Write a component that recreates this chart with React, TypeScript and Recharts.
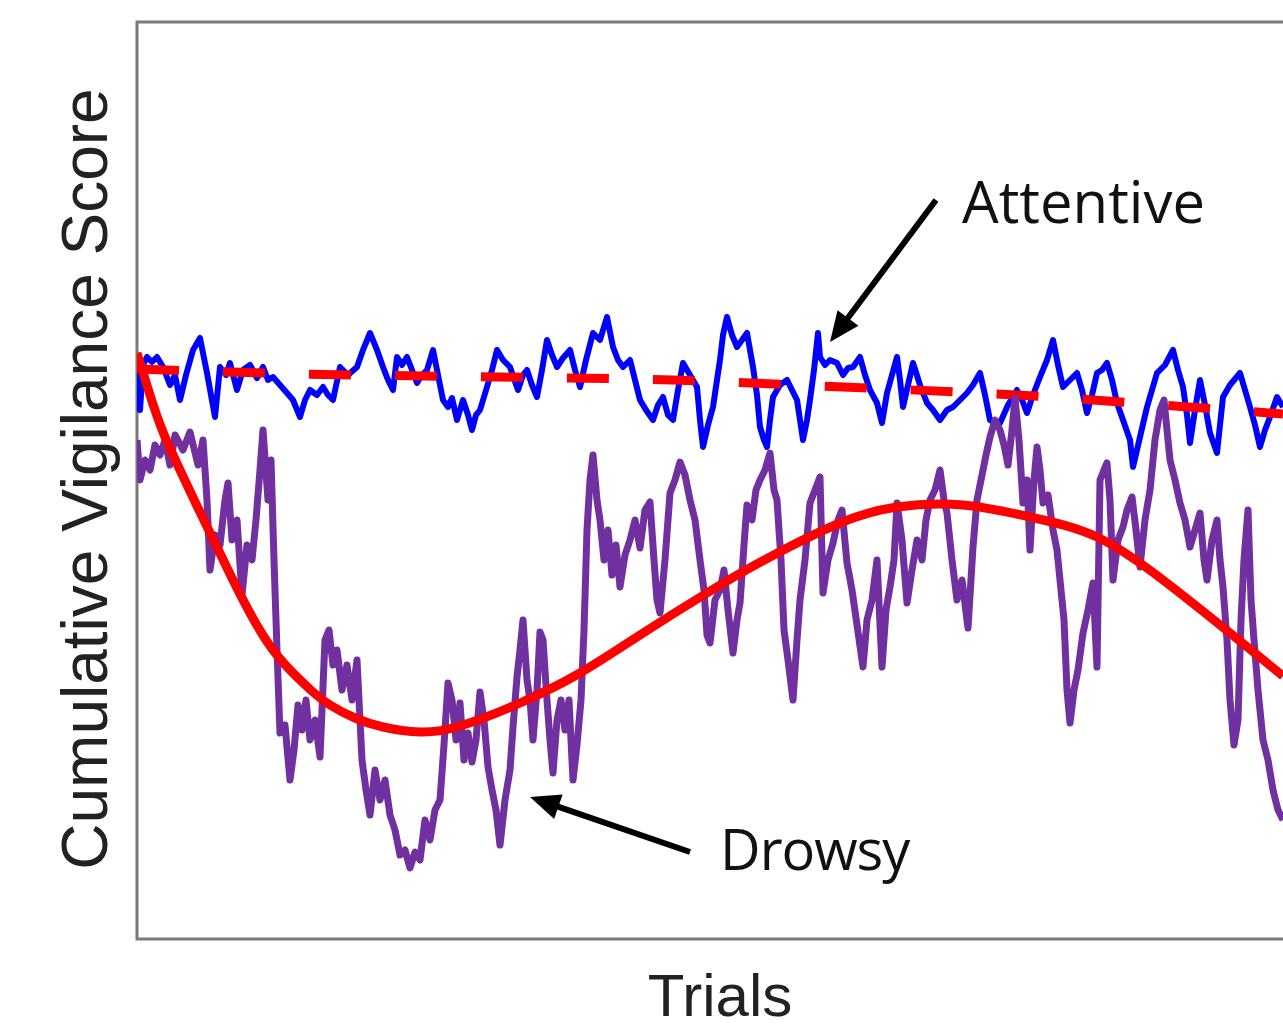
import React from 'react';
import { LineChart, Line, XAxis, YAxis, ReferenceArea } from 'recharts';

// Trials (x) and cumulative vigilance score (y, arbitrary units)
const attentiveTrials = [0,3,6,10,15,20,26,33,38,43,49,56,63,70,74,78,83,89,93,100,106,113,120,126,131,136,143,150,156,163,168,173,180,186,191,196,203,211,220,226,233,240,246,251,256,260,265,270,275,280,285,290,296,301,306,311,315,320,326,331,335,339,343,350,355,360,366,373,381,386,390,395,400,405,410,415,420,426,433,438,443,449,456,463,470,476,481,486,493,498,503,509,516,521,526,531,536,541,546,553,560,563,566,571,576,580,583,586,590,595,600,605,610,613,616,620,623,627,630,633,636,643,650,655,660,663,666,670,673,677,681,683,688,693,700,706,711,716,723,728,733,740,745,750,755,760,763,766,771,776,783,790,796,803,810,816,823,830,836,843,848,853,858,863,871,880,885,890,896,903,910,916,921,926,933,940,945,950,955,960,965,970,975,980,986,993,996,1000,1003,1010,1015,1020,1028,1036,1041,1046,1050,1053,1058,1063,1068,1073,1080,1083,1086,1093,1103,1108,1113,1118,1123,1128,1133,1140,1146];
const attentiveScores = [58.6,52.9,57.4,58.2,57.7,58.2,57.2,55.4,56.4,53.9,56.4,58.9,60.1,56.6,54.4,52.2,57.2,56.4,57.6,54.9,56.9,57.4,56.1,57.2,55.9,56.2,55.4,54.6,53.9,52.2,53.9,54.9,54.4,55.2,54.4,53.9,57.2,56.4,57.2,58.9,60.6,58.9,57.2,55.9,54.9,58.2,57.4,58.2,56.9,55.6,56.4,56.9,58.9,56.4,53.9,53.2,54.1,51.9,53.9,52.4,50.9,52.4,52.9,55.2,56.9,58.9,57.9,57.2,54.9,56.4,56.9,55.4,54.2,56.9,59.9,58.4,57.2,58.1,58.9,56.9,55.2,57.9,60.6,59.9,62.2,59.2,57.9,57.2,57.9,55.9,53.9,52.9,51.9,53.4,54.2,52.4,51.9,54.9,57.6,56.4,55.2,51.9,49.2,51.4,53.2,55.9,57.9,60.4,62.2,60.4,59.2,59.9,60.6,58.9,57.2,54.4,51.2,49.9,49.2,51.9,54.2,55.4,55.9,54.9,53.9,51.9,49.9,51.9,53.9,56.9,60.6,58.2,57.4,57.9,57.6,56.4,57.1,57.2,58.2,56.4,54.9,53.6,51.6,54.6,56.4,58.2,55.9,53.2,55.4,57.6,55.4,53.6,52.9,51.9,52.9,53.2,53.9,54.6,55.4,56.6,54.4,51.9,51.6,51.6,53.4,54.9,53.9,52.6,54.4,56.2,57.9,59.9,57.4,55.2,55.9,56.6,54.9,52.6,54.4,56.6,56.9,57.6,55.9,53.6,51.9,49.9,47.2,48.9,50.2,53.2,54.9,56.6,57.4,58.9,56.9,55.2,52.4,49.6,52.9,55.9,53.4,50.6,48.6,51.4,54.2,55.4,56.6,54.9,53.2,51.4,49.2,50.9,52.2,54.2,53.2];

const drowsyTrials = [0,3,8,13,18,23,28,33,38,46,53,61,66,70,73,78,83,88,91,95,100,105,110,115,119,123,126,131,134,137,140,143,148,153,157,161,165,169,173,178,183,188,192,196,200,205,210,215,220,225,229,233,238,243,248,253,258,263,268,273,278,283,288,293,298,303,307,311,315,319,323,327,331,335,339,343,347,351,355,359,363,368,373,376,380,383,386,390,393,396,400,403,406,410,413,416,420,424,428,432,436,440,444,447,450,453,456,460,463,467,471,475,479,483,488,493,498,503,508,513,517,520,523,528,533,538,543,548,553,558,563,567,570,573,578,583,587,591,596,600,603,607,610,615,619,623,628,633,637,640,644,647,651,656,660,663,668,673,678,683,686,691,696,701,705,710,715,720,726,730,735,740,745,749,753,757,760,765,770,775,780,785,789,793,798,803,807,810,815,820,825,831,836,840,844,849,853,858,863,867,871,875,878,882,886,890,893,897,900,903,906,911,916,920,923,927,930,933,937,941,946,951,956,960,963,967,970,973,976,981,986,990,995,999,1003,1008,1013,1018,1023,1027,1030,1033,1038,1043,1048,1053,1058,1063,1067,1070,1075,1080,1083,1086,1090,1093,1097,1101,1104,1107,1111,1114,1117,1121,1126,1131,1136,1141,1146];
const drowsyScores = [49.9,45.9,47.9,46.9,49.4,48.4,49.9,47.4,50.4,48.9,50.7,47.4,49.9,43.9,36.9,40.4,39.4,43.9,45.6,39.9,41.9,34.4,39.4,37.9,41.9,46.9,50.9,43.9,47.9,37.9,28.9,20.6,21.4,15.9,18.9,23.4,20.9,23.9,19.9,21.9,18.2,29.9,30.9,27.4,28.9,24.9,27.4,23.9,27.9,17.9,14.9,12.4,16.9,13.9,15.9,12.4,10.9,8.4,8.9,7.1,8.7,7.9,11.9,9.9,12.9,13.9,19.4,25.6,23.9,19.9,23.6,17.9,20.6,17.7,19.9,24.7,21.9,17.2,14.9,12.9,9.4,13.9,16.9,21.2,26.2,28.9,31.9,25.9,23.9,19.9,24.9,30.7,29.9,23.9,19.9,16.6,21.9,23.9,20.9,23.9,15.9,19.4,23.9,30.9,40.9,45.9,48.4,43.9,41.9,37.9,40.9,36.4,39.4,35.2,38.4,39.9,41.9,39.1,42.9,43.7,37.9,33.9,32.6,37.9,44.6,45.9,47.7,46.4,43.9,41.9,37.9,34.9,30.4,29.6,33.9,34.9,36.9,32.9,28.6,31.9,33.6,39.4,43.4,41.9,44.9,45.9,46.9,48.6,44.9,43.9,37.9,30.9,27.9,23.9,29.9,33.9,37.9,43.6,44.9,46.2,34.6,37.9,39.6,41.9,42.9,37.6,34.9,31.4,27.2,31.9,33.9,37.9,27.2,32.9,35.2,37.9,43.6,39.9,33.6,36.9,39.9,37.9,41.9,43.9,44.9,46.9,43.9,42.6,37.9,33.9,35.9,31.1,39.2,43.9,45.9,48.4,50.2,51.9,50.9,49.4,47.4,50.9,54.1,49.9,43.6,45.9,38.9,45.9,49.2,46.9,43.6,44.4,40.9,38.9,35.9,31.9,24.9,21.6,24.9,26.9,30.6,32.9,35.6,27.2,45.9,46.9,47.6,43.9,35.9,39.9,41.2,42.9,44.2,40.9,37.2,41.9,44.9,49.9,52.9,53.9,50.9,47.9,45.9,43.6,41.9,39.2,40.9,42.6,37.9,35.9,39.9,41.9,37.9,35.2,29.9,23.9,19.4,21.9,31.9,37.9,42.9,33.9,29.9,24.9,19.9,17.9,14.9,12.9,11.9];

const attentiveFitTrials = [0,163,363,536,706,879,1051,1146];
const attentiveFitScores = [57.0,56.5,56.2,55.9,55.2,54.4,53.2,52.5];

const drowsyFitTrials = [0,13,26,43,60,78,93,113,136,158,176,193,218,246,283,323,383,443,503,570,633,703,760,826,893,960,1026,1093,1146];
const drowsyFitScores = [58.6,54.4,50.7,46.9,43.3,39.6,36.5,32.6,28.9,26.4,24.7,23.4,22.1,21.2,20.7,21.3,23.6,26.6,30.4,34.6,38.2,41.6,43.2,43.4,42.2,40.2,35.9,30.6,26.3];

const xDomain = [0, 1166];
const yDomain = [0, 91.7];

const zip = (xs: number[], ys: number[]) => xs.map((t, i) => ({ t, v: ys[i] }));
const attentiveData = zip(attentiveTrials, attentiveScores);
const drowsyData = zip(drowsyTrials, drowsyScores);
const attentiveFit = zip(attentiveFitTrials, attentiveFitScores);
const drowsyFit = zip(drowsyFitTrials, drowsyFitScores);

function Arrow({ tail, tip }: { tail: [number, number]; tip: [number, number] }) {
  const dx = tip[0] - tail[0];
  const dy = tip[1] - tail[1];
  const len = Math.hypot(dx, dy);
  const ux = dx / len, uy = dy / len;
  const nx = -uy, ny = ux;
  const headLen = 30, headHalf = 13;
  const bx = tip[0] - ux * headLen, by = tip[1] - uy * headLen;
  const pts = `${tip[0]},${tip[1]} ${bx + nx * headHalf},${by + ny * headHalf} ${bx - nx * headHalf},${by - ny * headHalf}`;
  return (
    <g>
      <line x1={tail[0]} y1={tail[1]} x2={bx + ux * 2} y2={by + uy * 2} stroke="#000" strokeWidth={6} />
      <polygon points={pts} fill="#000" />
    </g>
  );
}

export default function App() {
  return (
    <div style={{ position: 'absolute', left: 0, top: 0, width: 1283, height: 1030, overflow: 'hidden', background: '#fff' }}>
      <LineChart width={1330} height={1030} margin={{ top: 22, right: 27, bottom: 91, left: 137 }}>
        <XAxis dataKey="t" type="number" domain={xDomain} allowDataOverflow hide />
        <YAxis type="number" domain={yDomain} allowDataOverflow hide />
        <ReferenceArea x1={xDomain[0]} x2={xDomain[1]} y1={yDomain[0]} y2={yDomain[1]} fill="#ffffff" fillOpacity={0} stroke="#7a7a7a" strokeWidth={3} ifOverflow="visible" />
        <Line data={attentiveData} dataKey="v" type="linear" stroke="#0000ff" strokeWidth={6} strokeLinejoin="round" dot={false} activeDot={false} isAnimationActive={false} />
        <Line data={attentiveFit} dataKey="v" type="monotone" stroke="#ff0000" strokeWidth={9} strokeDasharray="42 44" dot={false} activeDot={false} isAnimationActive={false} />
        <Line data={drowsyData} dataKey="v" type="linear" stroke="#7030a0" strokeWidth={7} strokeLinejoin="round" dot={false} activeDot={false} isAnimationActive={false} />
        <Line data={drowsyFit} dataKey="v" type="natural" stroke="#ff0000" strokeWidth={9} dot={false} activeDot={false} isAnimationActive={false} />
      </LineChart>
      <svg width={1283} height={1030} style={{ position: 'absolute', left: 0, top: 0, pointerEvents: 'none' }}>
        <text transform="rotate(-90)" x={-479} y={107} textAnchor="middle" fontFamily="'Liberation Sans', Arial, sans-serif" fontSize={64} fill="#222">Cumulative Vigilance Score</text>
        <text x={720} y={1016} textAnchor="middle" fontFamily="'Liberation Sans', Arial, sans-serif" fontSize={60} fill="#222">Trials</text>
        <text x={962} y={223} fontFamily="'Open Sans', sans-serif" fontSize={58} fill="#111">Attentive</text>
        <text x={720} y={870} fontFamily="'Open Sans', sans-serif" fontSize={56} letterSpacing={-1} fill="#111">Drowsy</text>
        <Arrow tail={[936, 200]} tip={[830, 342]} />
        <Arrow tail={[690, 852]} tip={[530, 797]} />
      </svg>
    </div>
  );
}
